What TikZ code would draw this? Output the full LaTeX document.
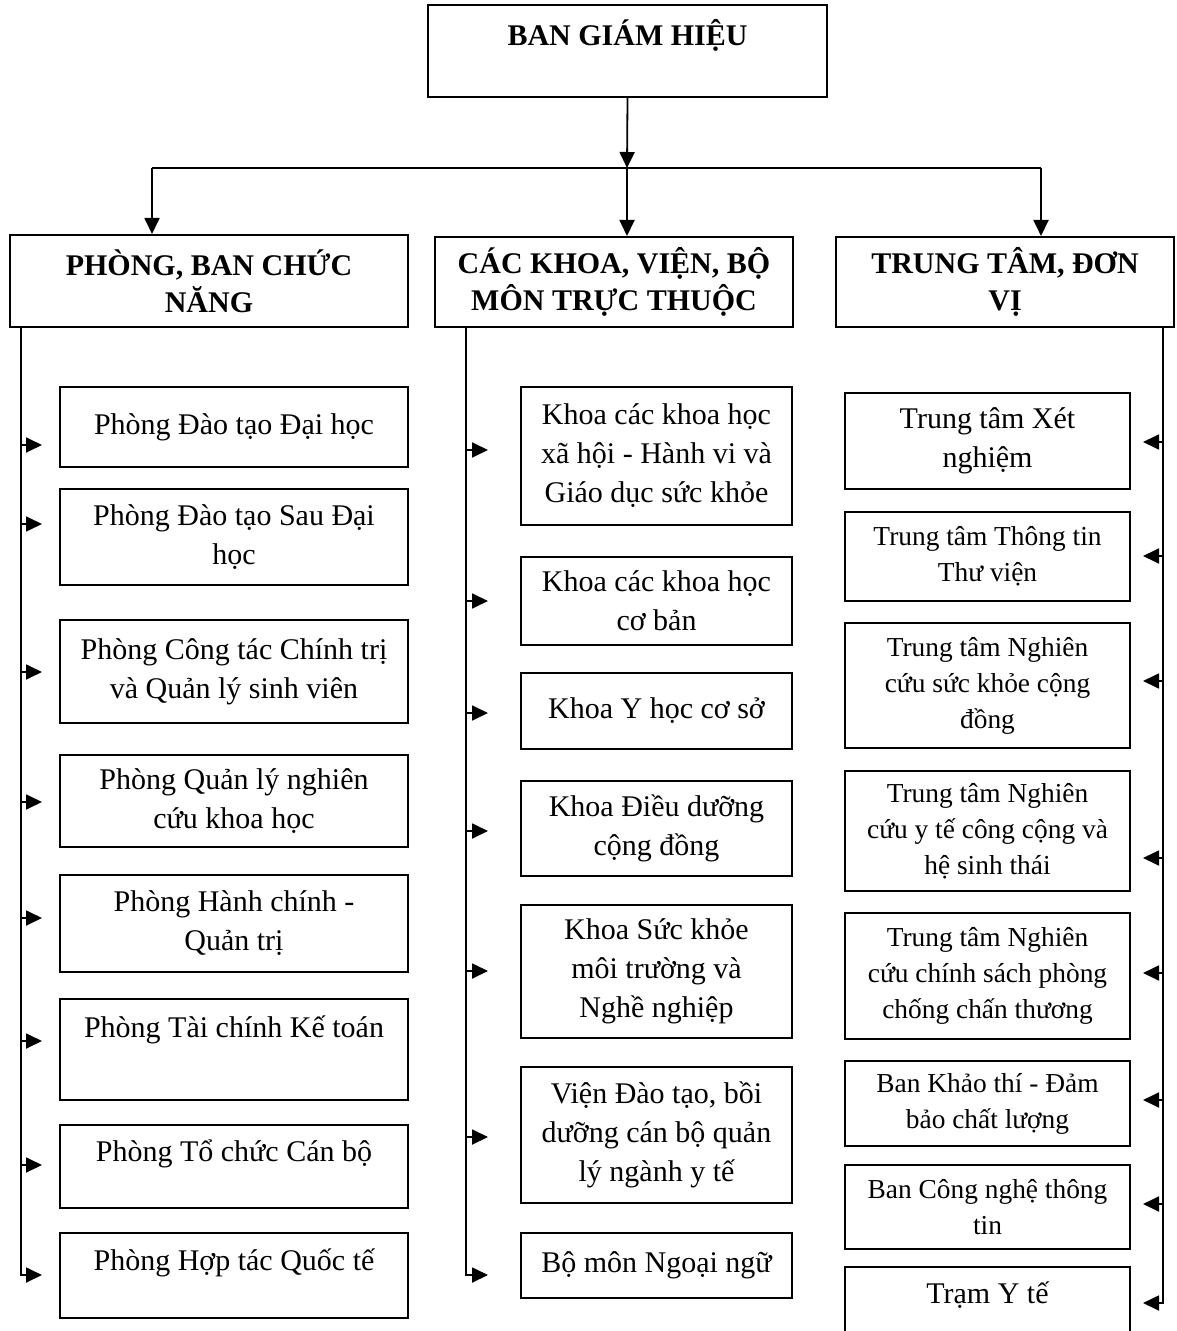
\documentclass[tikz,border=0pt]{standalone}
\usepackage{fontspec}
\setmainfont{Liberation Serif}
\usetikzlibrary{arrows.meta,positioning}

\newcommand{\bodyfont}{\fontsize{15}{19.5}\selectfont}
\newcommand{\smallfont}{\fontsize{13.7}{18}\selectfont}

\tikzset{
  unitbox/.style={draw,line width=1pt,inner sep=0pt,align=center,font=\bodyfont},
  headbox/.style={draw,line width=1pt,inner sep=0pt,align=center,
                  font=\fontsize{15}{18.5}\selectfont\bfseries},
  link/.style={line width=0.9pt},
  arr/.style={link,-{Triangle[length=8pt,width=7.5pt]}}
}

\begin{document}
\begin{tikzpicture}[x=0.5pt,y=-0.5pt]
  \useasboundingbox (0,0) rectangle (1176,1331);
  \clip (0,0) rectangle (1176,1331);

  % headers
  \node[headbox,minimum width=199.5pt,minimum height=46pt] (bgh) at (627.5,51)
    {BAN GIÁM HIỆU\\[-6pt]\strut};
  \node[headbox,minimum width=199pt,minimum height=46pt] (hleft) at (209,281)
    {PHÒNG, BAN CHỨC\\NĂNG};
  \node[headbox,minimum width=179pt,minimum height=45pt] (hmid) at (614,282)
    {CÁC KHOA, VIỆN, BỘ\\MÔN TRỰC THUỘC};
  \node[headbox,minimum width=169pt,minimum height=45pt] (hright) at (1005,282)
    {TRUNG TÂM, ĐƠN\\VỊ};

  \coordinate (split) at (627,168);
  \coordinate (splitL) at (152,168);
  \coordinate (splitR) at (1041,168);
  \draw[arr] (bgh.south) -- (split);
  \draw[link] (splitL) -- (splitR);
  \draw[arr] (split) -- (split |- hmid.north);
  \draw[arr] (splitL) -- (splitL |- hleft.north);
  \draw[arr] (splitR) -- (splitR |- hright.north);

  % phong, ban
  \foreach \n/\ya/\yb/\ay/\txt in {
      1/387/467/445/{Phòng Đào tạo Đại học},
      2/489/585/524/{Phòng Đào tạo Sau Đại\\học},
      3/620/723/672/{Phòng Công tác Chính trị\\và Quản lý sinh viên},
      4/755/847/802/{Phòng Quản lý nghiên\\cứu khoa học},
      5/875/972/918/{Phòng Hành chính -\\Quản trị},
      6/999/1100/1041/{Phòng Tài chính Kế toán\\[-2pt]\strut},
      7/1125/1208/1165/{Phòng Tổ chức Cán bộ\\[-9pt]\strut},
      8/1233/1318/1275/{Phòng Hợp tác Quốc tế\\[-9pt]\strut}} {
    \node[unitbox,minimum width=174pt,minimum height={(\yb-\ya)*0.5pt}]
      (pb\n) at (234,{(\ya+\yb)/2}) {\txt};
    \coordinate (pbus\n) at (21,\ay);
  }
  \foreach \n in {1,...,7}
    \draw[arr,shorten >=8.5pt] (pbus\n) -- (pbus\n -| pb\n.west);
  \draw[arr,shorten >=8.5pt] (pbus8 |- hleft.south) -- (pbus8) -- (pbus8 -| pb8.west);

  % khoa, vien, bo mon
  \foreach \n/\ya/\yb/\ay/\txt in {
      1/387/525/450/{Khoa các khoa học\\xã hội - Hành vi và\\Giáo dục sức khỏe},
      2/557/645/601/{Khoa các khoa học\\cơ bản},
      3/673/749/713/{Khoa Y học cơ sở},
      4/781/876/831/{Khoa Điều dưỡng\\cộng đồng},
      5/905/1038/971/{Khoa Sức khỏe\\môi trường và\\Nghề nghiệp},
      6/1067/1203/1137/{Viện Đào tạo, bồi\\dưỡng cán bộ quản\\lý ngành y tế},
      7/1233/1298/1275/{Bộ môn Ngoại ngữ}} {
    \node[unitbox,minimum width=135.5pt,minimum height={(\yb-\ya)*0.5pt}]
      (kb\n) at (656.5,{(\ya+\yb)/2}) {\txt};
    \coordinate (kbus\n) at (466,\ay);
  }
  \foreach \n in {1,...,6}
    \draw[arr,shorten >=16pt] (kbus\n) -- (kbus\n -| kb\n.west);
  \draw[arr,shorten >=16pt] (kbus7 |- hmid.south) -- (kbus7) -- (kbus7 -| kb7.west);

  % trung tam, don vi
  \foreach \n/\ya/\yb/\ay/\fs/\txt in {
      1/393/489/442/\bodyfont/{Trung tâm Xét\\nghiệm},
      2/512/601/556/\smallfont/{Trung tâm Thông tin\\Thư viện},
      3/623/748/681/\smallfont/{Trung tâm Nghiên\\cứu sức khỏe cộng\\đồng},
      4/771/891/858/\smallfont/{Trung tâm Nghiên\\cứu y tế công cộng và\\hệ sinh thái},
      5/913/1039/973/\smallfont/{Trung tâm Nghiên\\cứu chính sách phòng\\chống chấn thương},
      6/1061/1146/1100/\smallfont/{Ban Khảo thí - Đảm\\bảo chất lượng},
      7/1165/1249/1204/\smallfont/{Ban Công nghệ thông\\tin},
      8/1267/1360/1303/\bodyfont/{Trạm Y tế\\[-4pt]\strut}} {
    \node[unitbox,font=\fs,minimum width=142.5pt,minimum height={(\yb-\ya)*0.5pt}]
      (tb\n) at (987.5,{(\ya+\yb)/2}) {\txt};
    \coordinate (tbus\n) at (1163,\ay);
  }
  \foreach \n in {1,...,7}
    \draw[arr,shorten >=6pt] (tbus\n) -- (tbus\n -| tb\n.east);
  \draw[arr,shorten >=6pt] (tbus8 |- hright.south) -- (tbus8) -- (tbus8 -| tb8.east);
\end{tikzpicture}
\end{document}
